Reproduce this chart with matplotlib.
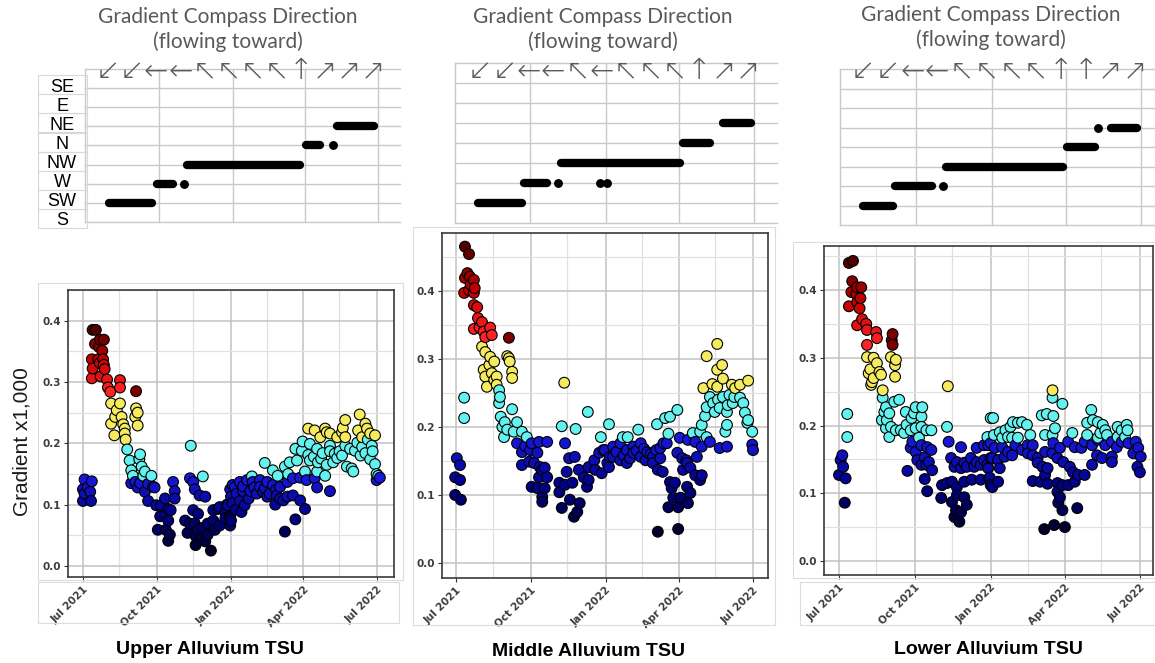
import numpy as np
import matplotlib
matplotlib.use("Agg")
import matplotlib.pyplot as plt
import matplotlib.dates as mdates
from matplotlib.colors import LinearSegmentedColormap, to_rgba
from matplotlib.patches import Rectangle

# ---------------------------------------------------------------- data
start = np.datetime64("2021-07-01")
compass_labels = ["S", "SW", "W", "NW", "N", "NE", "E", "SE"]

# dominant flow direction periods: (direction, first day, last day) since 2021-07-01
upper_directions = [("SW", 30, 83), ("W", 90, 110), ("W", 123, 123), ("NW", 127, 268),
                    ("N", 275, 293), ("N", 309, 309), ("NE", 313, 360)]
middle_directions = [("SW", 28, 82), ("W", 84, 112), ("W", 126, 126), ("W", 177, 177),
                     ("W", 186, 186), ("NW", 129, 275), ("N", 278, 311), ("NE", 327, 361)]
lower_directions = [("SW", 28, 64), ("W", 67, 112), ("W", 125, 125), ("NW", 129, 270),
                    ("N", 275, 309), ("NE", 313, 313), ("NE", 329, 360)]

upper_arrows = list("↙↙←←↖↖↖↖↑↗↗↗")
middle_arrows = list("↙↙←←↖←↖↖↖↑↗↗")
lower_arrows = list("↙↙←←↖↖↖↖↑↑↗↗")

# gradient x1,000 observations: (day since 2021-07-01, value), grouped by colour band
upper_blue = [
    (2, .141), (11, .138), (0, .125), (6, .128), (2, .118), (9, .121), (0, .106), (10, .106),
    (60, .135), (71, .135), (81, .134), (87, .129), (77, .121), (89, .128), (65, .137), (68, .128),
    (112, .137), (114, .122), (102, .110), (114, .110), (81, .106), (91, .099),
    (97, .099), (106, .093), (102, .085), (109, .091), (96, .081), (106, .074),
    (93, .059), (103, .059), (108, .051), (106, .041),
    (133, .143), (137, .137), (139, .125), (145, .115), (152, .113),
    (137, .091), (143, .085), (127, .074), (133, .069), (130, .054),
    (139, .069), (143, .059), (149, .062), (140, .049), (147, .047), (155, .051),
    (140, .034), (152, .040), (159, .025),
    (155, .069), (162, .074), (164, .059), (170, .066),
    (168, .093), (177, .088), (180, .099), (183, .125), (189, .129), (184, .113),
    (177, .078), (184, .074), (162, .091), (170, .096), (179, .100), (183, .081),
    (186, .132), (195, .137), (204, .140), (211, .137), (220, .140), (229, .137), (236, .132),
    (191, .118), (199, .122), (208, .122), (216, .118), (224, .121), (232, .118), (241, .115),
    (186, .103), (195, .106), (201, .099), (183, .078), (183, .066),
    (245, .129), (254, .137), (261, .143), (270, .144), (278, .140), (220, .129),
    (229, .113), (245, .110), (254, .113), (261, .115), (270, .107), (276, .093),
    (239, .100), (249, .107), (264, .076), (251, .056),
    (291, .128), (307, .122), (288, .143), (365, .140), (369, .144),
    (199, .130), (213, .128), (226, .127), (240, .124), (206, .110), (190, .092), (197, .088),
]
upper_cyan = [
    (134, .196), (55, .190), (71, .182), (58, .172), (70, .174), (73, .162), (77, .154),
    (60, .156), (85, .147), (149, .146), (62, .147), (75, .147),
    (210, .146), (226, .168), (236, .156), (251, .162), (257, .169), (266, .172),
    (242, .147), (255, .150), (276, .154), (291, .154), (301, .147),
    (272, .188), (280, .181), (291, .191), (273, .203), (282, .199),
    (282, .172), (292, .169), (303, .165), (311, .169),
    (298, .184), (307, .196), (316, .176), (319, .187), (326, .196), (332, .191),
    (328, .162), (334, .159), (336, .154),
    (341, .201), (347, .194), (351, .184), (354, .206), (359, .196), (360, .187),
    (357, .174), (363, .166), (365, .150), (367, .147), (264, .191), (307, .187),
    (287, .178), (296, .175), (313, .183), (322, .180), (338, .188), (345, .180),
]
upper_yellow = [
    (35, .265), (46, .265), (42, .254), (66, .257), (68, .250), (40, .243), (48, .243),
    (65, .243), (35, .232), (50, .231), (68, .229), (52, .224), (39, .213), (52, .216), (53, .206),
    (280, .224), (288, .221), (301, .224), (303, .218), (307, .216), (316, .210), (322, .218),
    (326, .210), (326, .238), (344, .247), (342, .221), (351, .232), (353, .224), (357, .216),
    (363, .213), (347, .210), (295, .210), (323, .225),
]
upper_red = [
    (12, .385), (16, .385), (21, .369), (26, .369), (15, .362), (20, .357), (24, .351),
    (11, .337), (19, .337), (25, .337), (21, .331), (26, .328),
    (12, .322), (27, .321), (11, .306), (22, .309), (30, .304), (46, .303), (31, .291),
    (46, .291), (34, .284),
]
upper_maroon = [(66, .285)]

middle_blue = [
    (1, .154), (5, .144), (-1, .126), (5, .122), (-1, .100), (6, .093),
    (75, .176), (85, .172), (93, .176), (102, .178), (112, .178),
    (81, .163), (91, .166), (100, .162),
    (81, .144), (90, .149), (96, .147), (106, .137), (112, .126),
    (102, .126), (103, .141), (109, .140),
    (93, .112), (100, .110), (109, .110), (106, .097), (106, .090),
    (134, .176), (127, .118), (127, .104), (134, .115), (143, .118),
    (130, .081), (140, .093), (145, .068), (152, .088), (149, .075),
    (139, .154), (146, .156), (151, .137), (136, .134), (157, .126), (163, .122), (161, .112),
    (163, .141), (170, .151), (176, .162), (183, .166), (189, .156),
    (171, .137), (179, .132), (188, .141),
    (181, .166), (193, .171), (202, .176), (210, .166), (218, .171), (227, .176), (235, .163),
    (242, .156), (251, .154), (259, .176), (251, .169), (233, .151), (242, .147), (248, .137),
    (254, .134), (255, .176),
    (193, .156), (202, .151), (210, .147), (218, .162), (227, .156), (186, .147),
    (275, .184), (285, .181), (294, .178), (302, .171), (312, .178),
    (272, .162), (278, .154), (284, .147), (279, .137), (288, .140), (294, .129), (302, .129),
    (300, .122),
    (263, .119), (269, .118), (265, .110), (284, .112), (288, .103), (267, .096), (276, .096),
    (261, .082), (273, .082), (285, .088),
    (248, .046), (273, .050), (283, .151), (296, .156),
    (324, .169), (333, .171), (364, .174), (365, .166),
    (197, .163), (206, .158), (214, .154), (222, .165), (231, .168), (239, .160), (246, .166),
]
middle_cyan = [
    (10, .243), (10, .213), (53, .254), (54, .244), (53, .235), (69, .226),
    (55, .215), (60, .207), (57, .200), (63, .196), (59, .185),
    (75, .207), (71, .193), (81, .193), (87, .185),
    (130, .201), (147, .197), (162, .222), (178, .185), (188, .204),
    (205, .185), (211, .185), (224, .196),
    (247, .204), (257, .213), (263, .215), (272, .225), (261, .190),
    (291, .191), (300, .193), (308, .185), (302, .203), (306, .216),
    (308, .229), (316, .235), (312, .244), (322, .240), (328, .244),
    (318, .222), (324, .228), (333, .222), (334, .232), (340, .235), (349, .243), (342, .244),
    (336, .247), (353, .235), (355, .221), (359, .210), (358, .206), (364, .193),
    (333, .203), (331, .193),
]
middle_yellow = [
    (32, .318), (36, .310), (42, .303), (47, .296), (41, .291), (34, .284), (44, .279),
    (50, .274), (36, .274), (47, .269), (38, .259), (50, .262),
    (63, .304), (66, .296), (69, .281), (69, .272), (65, .301), (133, .265),
    (321, .322), (308, .304), (327, .291), (321, .284), (328, .271), (304, .257), (315, .263),
    (321, .259), (339, .262), (349, .262), (359, .268), (343, .257),
]
middle_red = [
    (11, .465), (16, .454), (14, .426), (17, .421), (22, .416), (11, .419), (18, .409),
    (23, .404), (10, .397), (22, .397), (16, .401),
    (22, .379), (26, .376), (27, .360), (32, .354), (22, .344), (29, .346), (34, .340),
    (42, .346), (44, .335), (36, .332),
]
middle_maroon = [(65, .331)]

lower_blue = [
    (4, .156), (2, .149), (5, .139), (0, .127), (8, .122), (7, .086),
    (89, .176), (87, .167), (93, .161), (100, .171), (107, .168), (112, .164), (104, .153),
    (95, .149), (109, .146), (100, .142), (106, .142), (113, .134), (83, .133), (104, .121),
    (107, .103),
    (133, .176), (148, .168),
    (136, .152), (143, .146), (152, .145), (160, .152), (167, .146), (176, .149), (184, .152),
    (140, .139), (148, .137), (155, .139), (164, .139), (172, .142), (180, .142),
    (167, .167), (176, .171), (184, .174),
    (125, .112), (131, .115), (137, .117), (143, .109), (152, .117), (161, .120), (172, .120),
    (182, .122), (184, .112),
    (124, .093), (137, .087), (143, .097), (152, .094), (142, .075), (148, .072), (155, .083),
    (140, .065), (146, .058),
    (181, .171), (189, .167), (198, .168), (205, .161), (214, .171), (222, .164), (229, .171),
    (235, .171),
    (186, .152), (193, .149), (201, .154), (210, .156),
    (181, .137), (195, .137), (183, .123), (193, .117), (186, .109),
    (229, .159), (235, .156), (241, .152), (250, .161), (259, .159), (260, .174), (268, .167),
    (265, .152), (272, .146), (241, .145), (247, .139), (253, .137), (250, .127), (235, .118),
    (244, .117), (253, .114),
    (265, .115), (271, .112), (278, .112), (286, .117), (290, .127), (284, .131), (298, .127),
    (307, .142), (280, .139),
    (265, .102), (268, .094), (266, .086), (271, .075), (289, .078),
    (249, .047), (261, .053), (274, .050),
    (278, .176), (286, .168), (294, .167), (298, .176), (307, .171), (314, .179), (323, .171),
    (331, .176), (337, .168), (343, .176), (351, .174), (360, .176), (363, .167), (357, .159),
    (366, .154), (331, .154), (331, .146), (313, .156), (319, .152),
    (362, .139), (365, .131),
]
lower_cyan = [
    (10, .217), (10, .183),
    (53, .241), (57, .227), (55, .220), (61, .218), (67, .235), (73, .238), (52, .208),
    (58, .208), (57, .196), (63, .198), (69, .193), (75, .193), (61, .183),
    (81, .220), (88, .211), (91, .218), (100, .213), (101, .227), (93, .227), (82, .201),
    (87, .193), (93, .196), (100, .198), (106, .193), (112, .193), (79, .189), (97, .182),
    (131, .198), (184, .211), (180, .183), (188, .186),
    (187, .211), (195, .190), (202, .193), (208, .198), (211, .205), (217, .204),
    (222, .205), (228, .201), (232, .186), (210, .182), (217, .182), (205, .183), (198, .182),
    (246, .215), (252, .217), (260, .214), (259, .241), (271, .232), (262, .196), (250, .186),
    (259, .186), (283, .189),
    (301, .186), (306, .223), (301, .204), (308, .208), (314, .205), (320, .201), (323, .193),
    (317, .189), (325, .186), (314, .182), (338, .198), (343, .193), (349, .201), (350, .193),
    (347, .183), (338, .183),
]
lower_yellow = [
    (34, .301), (42, .300), (46, .292), (38, .283), (49, .279), (36, .277), (42, .270),
    (51, .275), (39, .260), (40, .264),
    (63, .301), (69, .297), (68, .289), (68, .272), (53, .252), (132, .258), (259, .252),
]
lower_red = [
    (12, .440), (17, .443), (16, .413), (22, .404), (27, .404), (15, .397), (21, .394),
    (26, .388), (22, .382),
    (12, .376), (25, .373), (28, .357), (22, .348), (33, .350), (34, .341), (45, .338),
    (46, .329), (34, .319),
]
lower_maroon = [(65, .335), (64, .326), (65, .319)]

unit_titles = ["Upper Alluvium TSU", "Middle Alluvium TSU", "Lower Alluvium TSU"]

# ---------------------------------------------------------------- layout helpers
W, H = 1155, 663
fig = plt.figure(figsize=(W / 100, H / 100), dpi=100)
fig.patch.set_facecolor("white")


def add_ax(l, t, r, b):
    return fig.add_axes([l / W, 1 - b / H, (r - l) / W, (b - t) / H])


def ftext(x, y, s, **kw):
    return fig.text(x / W, 1 - y / H, s, **kw)


def fbox(l, t, r, b, ec="#dcdcdc", lw=0.8):
    fig.add_artist(Rectangle((l / W, 1 - b / H), (r - l) / W, (b - t) / H,
                             transform=fig.transFigure, fill=False, ec=ec, lw=lw))


d0 = mdates.date2num(start)
quarters = [mdates.date2num(np.datetime64(d)) for d in
            ["2021-07-01", "2021-10-01", "2022-01-01", "2022-04-01", "2022-07-01"]]

blue_map = LinearSegmentedColormap.from_list("bl", ["#00002a", "#000088", "#1818da"])
red_map = LinearSegmentedColormap.from_list("rd", ["#ff2424", "#c40000", "#500000"])

TITLE_FONT = dict(family="Lato", color="#595959", fontsize=15)
GRID_C = "#c9c9c9"


def compass(box, periods, arrows, arrow_span, arrow_y, xmax_day, title_xy, labels=False):
    l, t, r, b = box
    ax = add_ax(l, t, r, b)
    ax.set_xlim(d0, d0 + xmax_day)
    ax.set_ylim(0, 8)
    ax.set_axis_off()
    for yy in range(9):
        ax.axhline(yy, color=GRID_C, lw=1.0, clip_on=False, zorder=1)
    for q in quarters:
        ax.axvline(q, color=GRID_C, lw=1.0, clip_on=False, zorder=1)
    for name, s, e in periods:
        k = compass_labels.index(name)
        if e > s:
            ax.plot([d0 + s, d0 + e], [k, k], color="black", lw=6.0,
                    solid_capstyle="round", clip_on=False, zorder=3)
        else:
            ax.plot([d0 + s], [k], "o", color="black", ms=6.4, mew=0,
                    clip_on=False, zorder=3)
    xs = np.linspace(arrow_span[0], arrow_span[1], len(arrows))
    for x, a in zip(xs, arrows):
        ftext(x, arrow_y, a, ha="center", va="center", fontsize=21,
              family="DejaVu Sans", color="#5a5a5a", fontweight="light")
    ftext(title_xy[0], title_xy[1], "Gradient Compass Direction", ha="center", va="center",
          **TITLE_FONT)
    ftext(title_xy[0], title_xy[1] + 25, "(flowing toward)", ha="center", va="center",
          **TITLE_FONT)
    if labels:
        step = (b - t) / 8
        for k, name in enumerate(compass_labels):
            yk = b - k * step
            fbox(38, yk - 13, 87, yk + 6, ec="#d8d8d8")
            ftext(62, yk - 1, name, ha="center", va="center", fontsize=13,
                  family="Liberation Sans", color="black")
    return ax


def scatter_panel(box, bands, ylim, xlim_days):
    l, t, r, b = box
    ax = add_ax(l, t, r, b)
    days, vals, cols = [], [], []
    for pts, kind in bands:
        dd = np.array([p[0] for p in pts], float)
        vv = np.array([p[1] for p in pts], float)
        if kind == "blue":
            tt = (vv - vv.min()) / (vv.max() - vv.min())
            cc = [blue_map(x) for x in tt]
        elif kind == "red":
            tt = (vv - vv.min()) / (vv.max() - vv.min())
            cc = [red_map(x) for x in tt]
        else:
            cc = [to_rgba({"cyan": "#63f2ee", "yellow": "#f6ea5e",
                           "maroon": "#7c0000"}[kind])] * len(vv)
        days.extend(dd)
        vals.extend(vv)
        cols.extend(cc)
    order = np.argsort(days, kind="stable")
    days = np.array(days)[order]
    vals = np.array(vals)[order]
    cols = [cols[i] for i in order]
    ax.scatter(d0 + days, vals, s=60, c=cols, edgecolors="black", linewidths=0.8, zorder=3)
    ax.set_xlim(d0 + xlim_days[0], d0 + xlim_days[1])
    ax.set_ylim(*ylim)
    ax.xaxis.set_major_locator(mdates.MonthLocator(bymonth=[1, 4, 7, 10]))
    ax.xaxis.set_minor_locator(mdates.MonthLocator(bymonth=[2, 5, 8, 11], bymonthday=15))
    ax.xaxis.set_major_formatter(mdates.DateFormatter("%b %Y"))
    ax.set_yticks([0.0, 0.1, 0.2, 0.3, 0.4])
    ax.set_yticks([0.05, 0.15, 0.25, 0.35, 0.45], minor=True)
    ax.yaxis.set_major_formatter(matplotlib.ticker.FormatStrFormatter("%.1f"))
    ax.grid(True, which="major", color="#c2c2c2", lw=1.1, zorder=0)
    ax.grid(True, which="minor", color="#e0e0e0", lw=0.9, zorder=0)
    ax.set_axisbelow(True)
    ax.tick_params(which="major", length=3, width=0.8, color="#333333",
                   labelsize=7.5, labelcolor="#3c3c3c", pad=2)
    ax.tick_params(which="minor", length=0)
    for lab in ax.get_xticklabels() + ax.get_yticklabels():
        lab.set_fontweight("bold")
    for lab in ax.get_xticklabels():
        lab.set_rotation(45)
        lab.set_ha("right")
        lab.set_rotation_mode("anchor")
    for sp in ax.spines.values():
        sp.set_color("#3a3a3a")
        sp.set_linewidth(1.2)
    return ax


# ---------------------------------------------------------------- compass strips
compass((85, 69, 400, 222), upper_directions, upper_arrows, (108, 373), 71, 392,
        (228, 17), labels=True)
compass((455, 63, 777, 223), middle_directions, middle_arrows, (480, 748), 71, 393,
        (603, 17))
compass((840, 69, 1155, 225), lower_directions, lower_arrows, (863, 1135), 71, 382,
        (991, 15))

# ---------------------------------------------------------------- gradient scatter panels
fbox(38, 283, 403, 580)
fbox(38, 582, 399, 623)
fbox(413, 227, 775, 625)
fbox(793, 242, 1158, 578)
fbox(800, 582, 1158, 625)

scatter_panel((68, 290, 394, 577),
              [(upper_blue, "blue"), (upper_cyan, "cyan"), (upper_yellow, "yellow"),
               (upper_red, "red"), (upper_maroon, "maroon")],
              (-0.018, 0.404), (-18.6, 386.6))
scatter_panel((442, 233, 768, 578),
              [(middle_blue, "blue"), (middle_cyan, "cyan"), (middle_yellow, "yellow"),
               (middle_red, "red"), (middle_maroon, "maroon")],
              (-0.022, 0.485), (-17.2, 383.4))
scatter_panel((824, 246, 1153, 575),
              [(lower_blue, "blue"), (lower_cyan, "cyan"), (lower_yellow, "yellow"),
               (lower_red, "red"), (lower_maroon, "maroon")],
              (-0.0207, 0.465), (-18.2, 380.9))

ftext(22, 442, "Gradient x1,000", rotation=90, ha="center", va="center", fontsize=15,
      family="Liberation Sans", color="#1a1a1a")

for x, y, s in zip([210, 589, 988], [649, 652, 649], unit_titles):
    ftext(x, y, s, ha="center", va="center", fontsize=14, fontweight="bold",
          family="Liberation Sans", color="black")

fig.savefig("out.png", dpi=100, facecolor="white")
